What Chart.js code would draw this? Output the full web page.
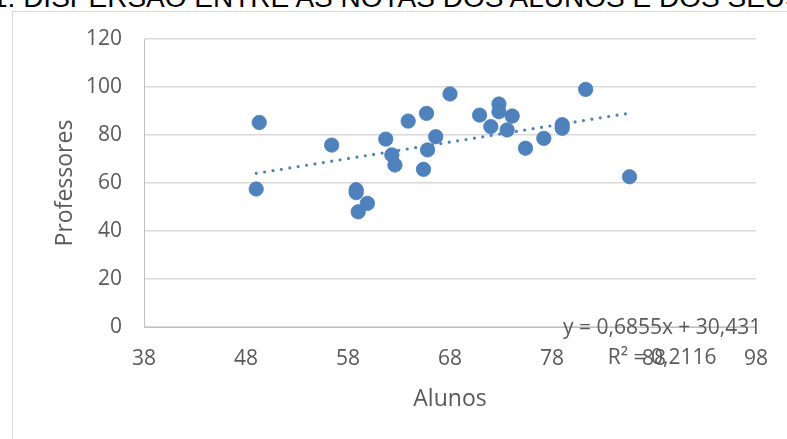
<!DOCTYPE html>
<html><head><meta charset="utf-8">
<script src="https://cdn.jsdelivr.net/npm/chart.js@4/dist/chart.umd.min.js"></script>
<style>
html,body{margin:0;padding:0;background:#fff;overflow:hidden;width:787px;height:439px;}
#frame{position:absolute;left:12px;top:11px;width:1000px;height:1000px;border:1px solid #D9D9D9;box-sizing:border-box;}
#doc{position:absolute;left:-8px;top:-16px;font-family:"Liberation Sans",Arial,sans-serif;font-size:28px;line-height:28px;color:#000;white-space:nowrap;}
#wrap{position:absolute;left:0;top:0;width:787px;height:439px;}
</style></head><body>
<div id="doc">1. DISPERSÃO ENTRE AS NOTAS DOS ALUNOS E DOS SEUS PROFESSORES</div>
<div id="frame"></div>
<div id="wrap"><canvas id="c" width="787" height="439"></canvas></div>
<script>
const alunos      = [49.0, 49.3, 56.4, 58.8, 58.8, 59.0, 59.9, 61.7, 62.3, 62.6, 63.9, 65.4, 65.7, 65.8, 66.6, 68.0, 70.9, 72.0, 72.8, 72.8, 73.6, 74.1, 75.4, 77.2, 79.0, 79.0, 81.3, 85.6];
const professores = [57.5, 85.2, 75.8, 57.2, 56.0, 48.0, 51.5, 78.3, 71.7, 67.5, 85.8, 65.7, 89.0, 73.8, 79.3, 97.1, 88.3, 83.5, 92.9, 89.7, 82.1, 87.9, 74.5, 78.6, 84.3, 82.8, 99.0, 62.6];
const xTicks = [38, 48, 58, 68, 78, 88, 98];
const yTicks = [0, 20, 40, 60, 80, 100, 120];
const trendCoef = [0.6855, 30.431];
const trendLabels = ['y = 0,6855x + 30,431', 'R\u00B2 = 0,2116'];
const axisTitles = ['Alunos', 'Professores'];

const points = alunos.map((v, i) => ({x: v, y: professores[i]}));
const xMin = Math.min(...alunos), xMax = Math.max(...alunos);
const trendPts = [xMin, xMax].map(v => ({x: v, y: trendCoef[0] * v + trendCoef[1]}));

const FONT = '"Open Sans", "Noto Sans", sans-serif';
const GREY = '#595959';

const trendLabelPlugin = {
  id: 'trendLabel',
  afterDatasetsDraw(chart) {
    const {ctx, scales: {x, y}} = chart;
    const cx = x.getPixelForValue(88.8);
    const cy = y.getPixelForValue(0);
    ctx.save();
    ctx.font = '21px ' + FONT;
    ctx.fillStyle = GREY;
    ctx.textAlign = 'center';
    ctx.textBaseline = 'middle';
    ctx.fillText(trendLabels[0], cx, cy + 1.5);
    ctx.fillText(trendLabels[1], cx, cy + 31.5);
    ctx.restore();
  }
};

new Chart(document.getElementById('c'), {
  type: 'scatter',
  data: {
    datasets: [
      {data: points, backgroundColor: '#4F81BD', borderColor: '#4A7EBB', borderWidth: 0.8, pointRadius: 7.2, order: 1},
      {type: 'line', data: trendPts, borderColor: '#4F81BD', borderWidth: 3.2, borderDash: [0, 8.5],
       borderCapStyle: 'round', pointRadius: 0, fill: false, showLine: true, order: 2}
    ]
  },
  options: {
    responsive: false,
    animation: false,
    events: [],
    plugins: {legend: {display: false}, tooltip: {enabled: false}},
    layout: {padding: {left: 0, right: 27, top: 39, bottom: 0}},
    scales: {
      x: {
        type: 'linear', min: xTicks[0], max: xTicks[xTicks.length - 1],
        afterBuildTicks: s => { s.ticks = xTicks.map(v => ({value: v})); },
        afterFit: s => { s.height = 112; },
        grid: {display: false, drawTicks: false},
        border: {display: true, color: '#BFBFBF', width: 1},
        ticks: {padding: 19, color: GREY, font: {family: FONT, size: 21}, maxRotation: 0, autoSkip: false},
        title: {display: true, text: axisTitles[0], color: GREY, font: {family: FONT, size: 23}, padding: {top: 0, bottom: 26}}
      },
      y: {
        type: 'linear', min: yTicks[0], max: yTicks[yTicks.length - 1],
        afterBuildTicks: s => { s.ticks = yTicks.map(v => ({value: v})); },
        afterFit: s => { s.width = 144; },
        grid: {color: '#D9D9D9', lineWidth: 1.5, drawTicks: false},
        border: {display: true, color: '#BFBFBF', width: 1},
        ticks: {padding: 22, color: GREY, font: {family: FONT, size: 21}},
        title: {display: true, text: axisTitles[1], color: GREY, font: {family: FONT, size: 23}, padding: {top: 52, bottom: 0}}
      }
    }
  },
  plugins: [trendLabelPlugin]
});
</script>
</body></html>
